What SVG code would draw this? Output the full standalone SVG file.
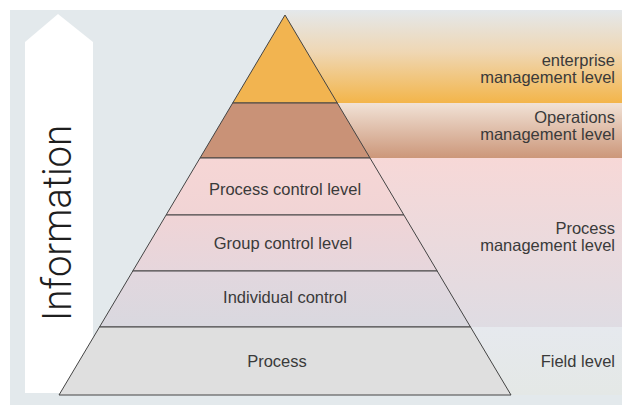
<svg xmlns="http://www.w3.org/2000/svg" width="622" height="407" viewBox="0 0 622 407">
<defs>
<linearGradient id="gEnt" x1="0" y1="0" x2="0" y2="1">
<stop offset="0" stop-color="#e4e8eb"/>
<stop offset="0.45" stop-color="#efd7b4"/>
<stop offset="1" stop-color="#f3b54a"/>
</linearGradient>
<linearGradient id="gOps" x1="0" y1="0" x2="0" y2="1">
<stop offset="0" stop-color="#f1e2d6"/>
<stop offset="1" stop-color="#cc977a"/>
</linearGradient>
<linearGradient id="gProc" x1="0" y1="0" x2="0" y2="1">
<stop offset="0" stop-color="#f7d8d7"/>
<stop offset="1" stop-color="#dfdce3"/>
</linearGradient>
<linearGradient id="gField" x1="0" y1="0" x2="0" y2="1">
<stop offset="0" stop-color="#e6e9ee"/>
<stop offset="1" stop-color="#e4e8e6"/>
</linearGradient>
<linearGradient id="gTierPC" x1="0" y1="0" x2="0" y2="1">
<stop offset="0" stop-color="#f6d6d5"/>
<stop offset="1" stop-color="#f1d4d5"/>
</linearGradient>
<linearGradient id="gTierGC" x1="0" y1="0" x2="0" y2="1">
<stop offset="0" stop-color="#f0d4d6"/>
<stop offset="1" stop-color="#e6d6dc"/>
</linearGradient>
<linearGradient id="gTierIC" x1="0" y1="0" x2="0" y2="1">
<stop offset="0" stop-color="#e2d7de"/>
<stop offset="1" stop-color="#d9d8df"/>
</linearGradient>
</defs>
<style>
.tier{stroke:#444444;stroke-width:1;}
.lbl{font-family:"Liberation Sans",Arial,sans-serif;font-size:16.5px;fill:#3a3a3a;}
.c{text-anchor:middle;}
.r{text-anchor:end;}
.big{font-family:Roboto,"Liberation Sans",sans-serif;font-weight:300;font-size:41px;fill:#1e1e1e;}
</style>
<rect x="0" y="0" width="622" height="407" fill="#ffffff"/>
<rect x="10" y="10" width="612" height="395" fill="#e3e9ec"/>
<g id="bands">
<rect x="285" y="10" width="337" height="93" fill="url(#gEnt)"/>
<rect x="285" y="103" width="337" height="55" fill="url(#gOps)"/>
<rect x="285" y="158" width="337" height="169" fill="url(#gProc)"/>
<rect x="285" y="327" width="337" height="68" fill="url(#gField)"/>
</g>
<g id="information-arrow">
<polygon points="25,42 58,14 93,42 93,393 25,393" fill="#ffffff"/>
<text class="big" transform="translate(71,321) rotate(-90)" textLength="196" lengthAdjust="spacingAndGlyphs">Information</text>
</g>
<g id="tier-enterprise">
<polygon class="tier" points="285,15 232.7,103 337.3,103" fill="#f2b450"/>
</g>
<g id="tier-operations">
<polygon class="tier" points="232.7,103 337.3,103 370,158 200,158" fill="#c99277"/>
</g>
<g id="tier-process-control">
<polygon class="tier" points="200,158 370,158 403.9,215 166.1,215" fill="url(#gTierPC)"/>
<text class="lbl c" x="285" y="195">Process control level</text>
</g>
<g id="tier-group-control">
<polygon class="tier" points="166.1,215 403.9,215 437.2,271 132.8,271" fill="url(#gTierGC)"/>
<text class="lbl c" x="283" y="249">Group control level</text>
</g>
<g id="tier-individual-control">
<polygon class="tier" points="132.8,271 437.2,271 470.5,327 99.5,327" fill="url(#gTierIC)"/>
<text class="lbl c" x="285" y="303">Individual control</text>
</g>
<g id="tier-process">
<polygon class="tier" points="99.5,327 470.5,327 511,395 59,395" fill="#dfdfdf"/>
<text class="lbl c" x="277" y="367">Process</text>
</g>
<g id="right-labels">
<text class="lbl r" x="615" y="66">enterprise</text>
<text class="lbl r" x="615" y="83">management level</text>
<text class="lbl r" x="615" y="123">Operations</text>
<text class="lbl r" x="615" y="140">management level</text>
<text class="lbl r" x="615" y="234">Process</text>
<text class="lbl r" x="615" y="251">management level</text>
<text class="lbl r" x="615" y="367">Field level</text>
</g>
</svg>
